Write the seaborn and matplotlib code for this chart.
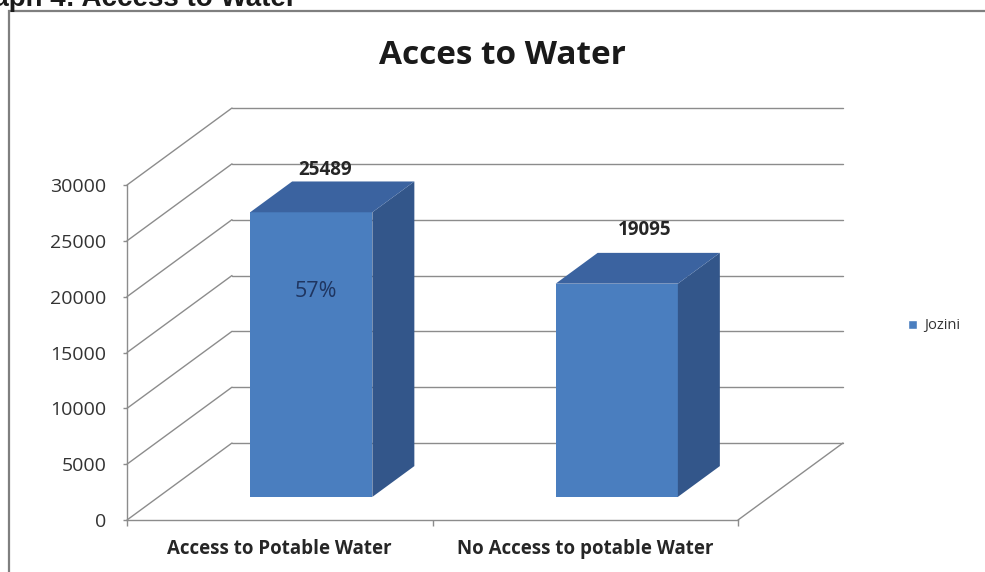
import matplotlib
matplotlib.use("Agg")
import matplotlib.pyplot as plt
from matplotlib.patches import Polygon, Rectangle, Patch
import pandas as pd
import seaborn as sns

# ---- data -------------------------------------------------------------
categories = ["Access to Potable Water", "No Access to potable Water"]
households = [25489, 19095]
series_name = "Jozini"
y_ticks = [0, 5000, 10000, 15000, 20000, 25000, 30000]
chart_title = "Acces to Water"
caption = "Graph 4: Access to Water"

# ---- style ------------------------------------------------------------
sns.set_theme(style="white")
plt.rcParams["font.family"] = ["Open Sans", "DejaVu Sans"]

W, H, DPI = 985, 572, 100
FRONT = "#4A7EBF"
SIDE = "#33568A"
TOP = "#3B63A0"
GRID = "#8C8C8C"
TEXT = "#262626"
DEPTH_PX = (105, 77)          # oblique offset of the full floor depth, pixels
BAR_FRONT, BAR_BACK = 0.30, 0.70  # bar slab position inside the depth

fig = plt.figure(figsize=(W / DPI, H / DPI), dpi=DPI)
fig.patch.set_facecolor("white")
ax = fig.add_axes([127 / W, 52 / H, 611 / W, 335 / H])
ax.set_facecolor("none")

df = pd.DataFrame({"category": categories, "value": households})
sns.barplot(data=df, x="category", y="value", color=FRONT, saturation=1,
            width=0.4, ax=ax, zorder=5)

ax.set_xlim(-0.5, len(categories) - 0.5)
ax.set_ylim(y_ticks[0], y_ticks[-1])
ax.set_xlabel("")
ax.set_ylabel("")

# convert the pixel depth offset into data units
p0 = ax.transData.transform((0, 0))
p1 = ax.transData.transform((1, 1))
DX = DEPTH_PX[0] / (p1[0] - p0[0])
DY = DEPTH_PX[1] / (p1[1] - p0[1])


def proj(x, y, d):
    return (x + d * DX, y + d * DY)


x_lo, x_hi = ax.get_xlim()

# back wall gridlines, left wall diagonals
for t in y_ticks:
    ax.plot(*zip(proj(x_lo, t, 1), proj(x_hi, t, 1)), color=GRID, lw=1.0,
            clip_on=False, zorder=1)
    ax.plot(*zip(proj(x_lo, t, 0), proj(x_lo, t, 1)), color=GRID, lw=1.0,
            clip_on=False, zorder=1)
# right edge of the floor
ax.plot(*zip(proj(x_hi, 0, 0), proj(x_hi, 0, 1)), color=GRID, lw=1.0,
        clip_on=False, zorder=1)

# turn each flat bar into a box
depth = BAR_BACK - BAR_FRONT
for patch in ax.patches:
    x0 = patch.get_x() + BAR_FRONT * DX
    w = patch.get_width()
    h = patch.get_height()
    y0 = BAR_FRONT * DY
    patch.set_x(x0)
    patch.set_y(y0)
    patch.set_edgecolor("none")
    patch.set_clip_on(False)
    side = [(x0 + w, y0), (x0 + w + depth * DX, y0 + depth * DY),
            (x0 + w + depth * DX, y0 + h + depth * DY), (x0 + w, y0 + h)]
    top = [(x0, y0 + h), (x0 + w, y0 + h),
           (x0 + w + depth * DX, y0 + h + depth * DY),
           (x0 + depth * DX, y0 + h + depth * DY)]
    ax.add_patch(Polygon(side, closed=True, facecolor=SIDE, edgecolor="none",
                         clip_on=False, zorder=5))
    ax.add_patch(Polygon(top, closed=True, facecolor=TOP, edgecolor="none",
                         clip_on=False, zorder=5))

# value labels above each box
label_nudge = [(-7, 27), (7, 38)]
for i, v in enumerate(households):
    cx, cy = proj(i, v, 0.5)
    ax.annotate(f"{v}", (cx, cy), xytext=label_nudge[i], textcoords="offset pixels",
                ha="center", va="center", fontsize=13.5, fontweight="bold",
                color=TEXT, annotation_clip=False, zorder=7)

# share of the first category written on its front face
share = households[0] / sum(households)
cx, cy = proj(0, households[0] * 0.72, BAR_FRONT)
ax.annotate(f"{share:.0%}", (cx, cy), xytext=(5, 0), textcoords="offset pixels",
            ha="center", va="center", fontsize=15.5, color="#1F3560", zorder=7)

# axes, ticks and tick labels
for s in ("top", "right"):
    ax.spines[s].set_visible(False)
for s in ("left", "bottom"):
    ax.spines[s].set_color(GRID)
    ax.spines[s].set_linewidth(1.0)
    ax.spines[s].set_zorder(2)

ax.set_yticks(y_ticks)
ax.set_yticklabels([str(t) for t in y_ticks])
ax.tick_params(axis="y", direction="out", length=3, width=1, color=GRID,
               left=True, pad=12, labelsize=14, labelcolor="#333333")

ax.set_xticks([x_lo, 0.5, x_hi])
ax.set_xticklabels(["", "", ""])
ax.set_xticks(range(len(categories)), minor=True)
ax.set_xticklabels(categories, minor=True, fontsize=13.5, fontweight="bold",
                   color=TEXT)
ax.tick_params(axis="x", which="major", direction="out", length=4, width=1,
               color=GRID, bottom=True)
ax.tick_params(axis="x", which="minor", length=0, pad=14)

# legend
ax.legend(handles=[Patch(facecolor=FRONT, label=series_name)],
          loc="center left", bbox_to_anchor=(908 / W, (H - 326) / H),
          bbox_transform=fig.transFigure, frameon=False, fontsize=10.5,
          handlelength=0.6, handleheight=0.6, handletextpad=0.5,
          borderpad=0, borderaxespad=0, labelcolor="#333333")

# title, caption and chart frame
fig.text(502 / W, (H - 55) / H, chart_title, ha="center", va="center",
         fontsize=24, fontweight="bold", color="#1a1a1a")
fig.text(297 / W, (H - 6) / H, caption, ha="right", va="baseline",
         fontsize=20, fontweight="bold", color="#1a1a1a",
         family=["Liberation Sans", "DejaVu Sans"])
fig.patches.append(Rectangle((9 / W, -0.1), 1.2, (H - 11) / H + 0.1,
                             transform=fig.transFigure, fill=False,
                             edgecolor="#7F7F7F", linewidth=1.6))

fig.savefig("out.png", dpi=DPI)
